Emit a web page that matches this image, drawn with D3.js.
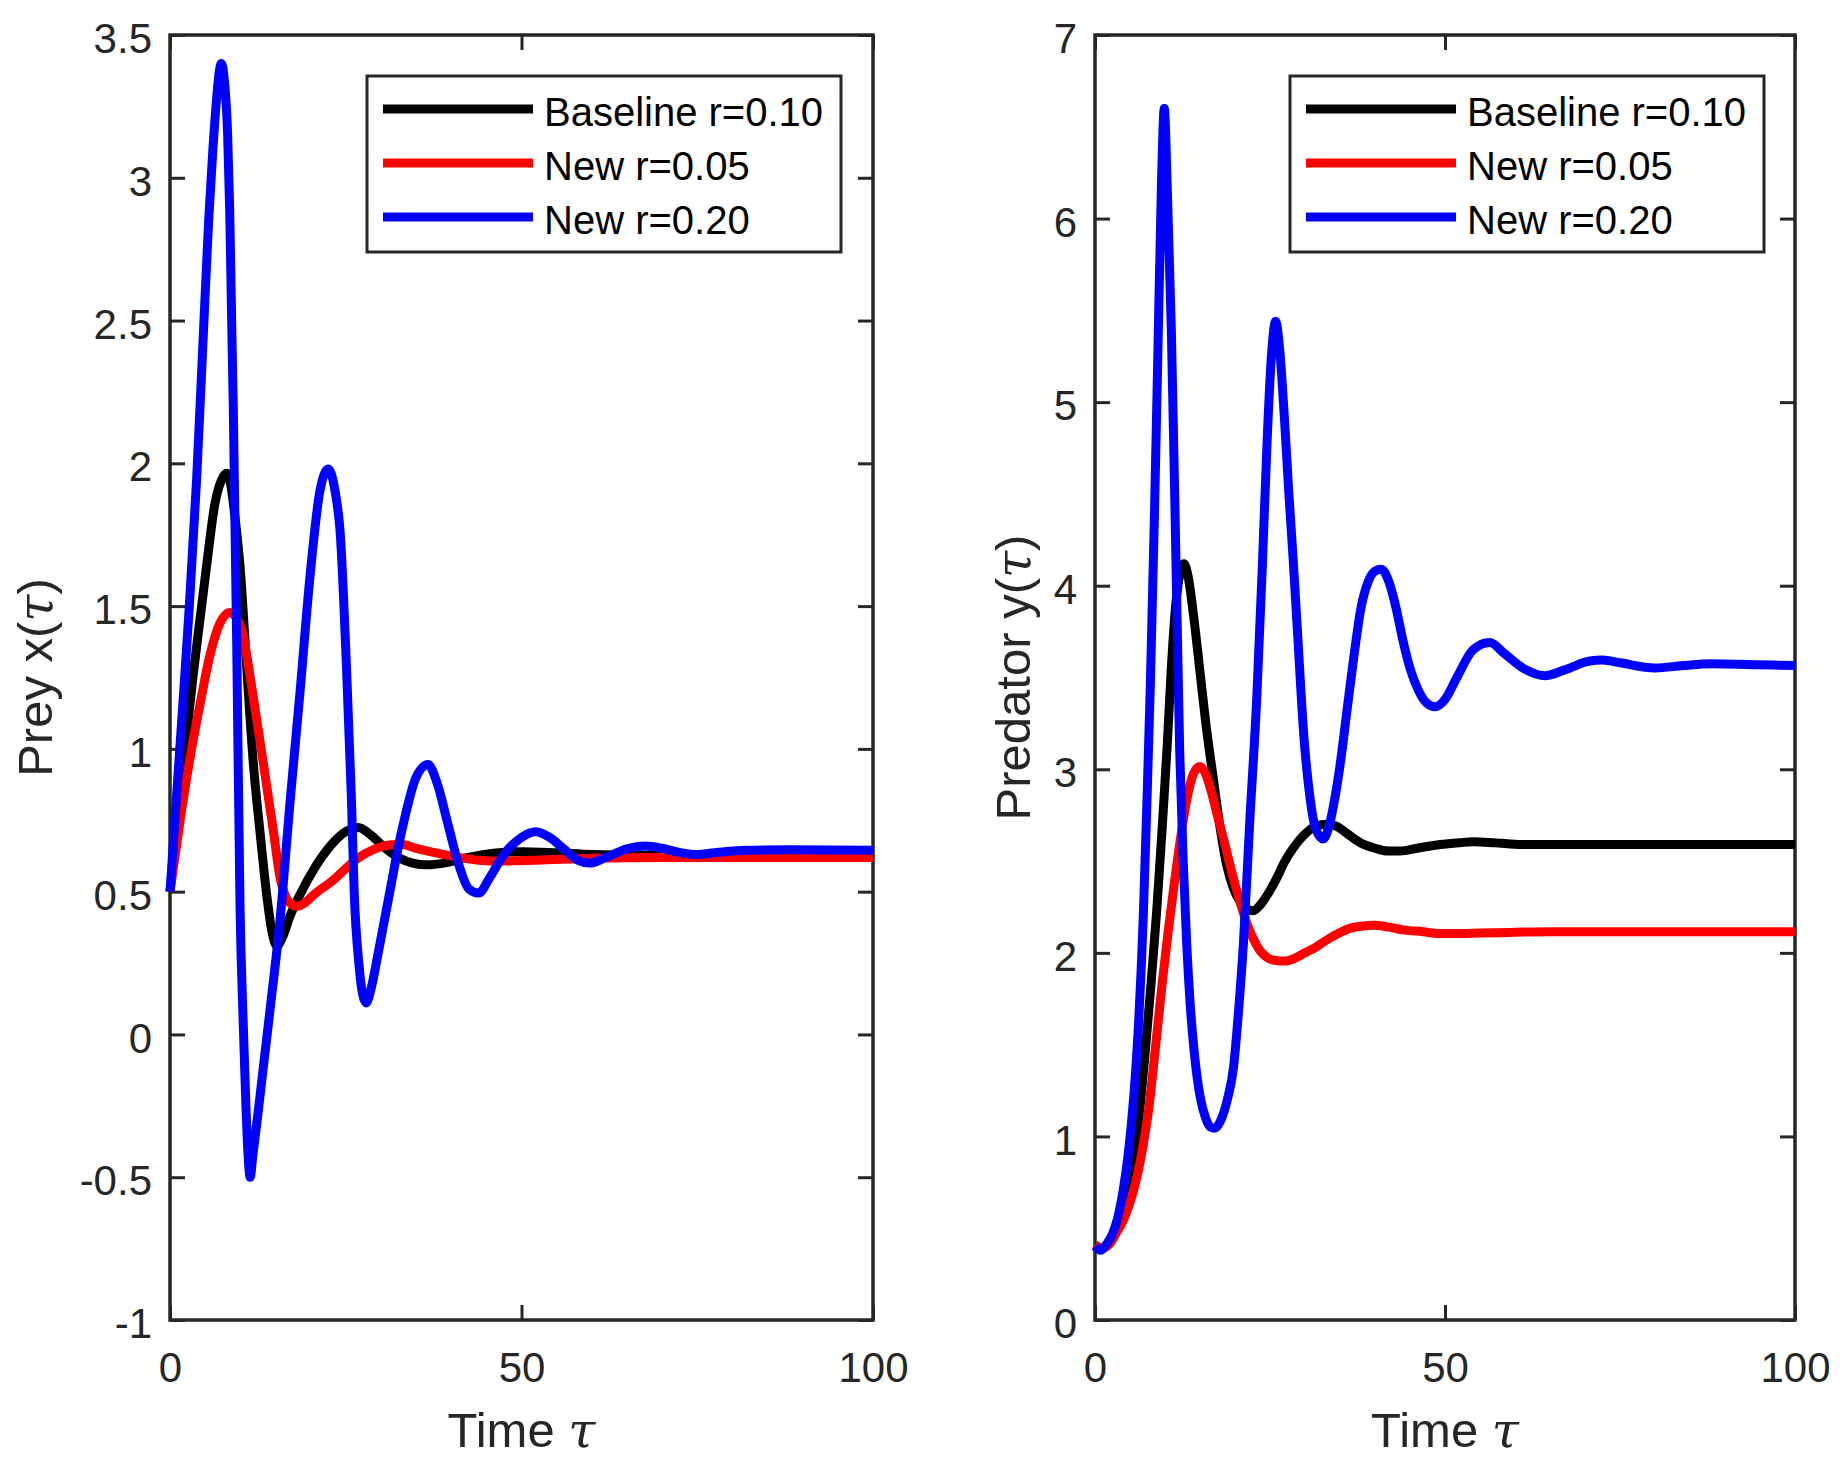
<!DOCTYPE html>
<html><head><meta charset="utf-8">
<script src="https://cdn.jsdelivr.net/npm/d3@7"></script>
<style>body{margin:0;background:#fff}</style>
</head><body>
<svg id="chart" width="1847" height="1468"></svg>
<script>
// ---------- data ----------
const seriesNames = ["Baseline r=0.10", "New r=0.05", "New r=0.20"];
const seriesColors = ["#000000", "#ff0000", "#0000ff"];
const xTicks = [0, 50, 100];
const preyTicks = [-1, -0.5, 0, 0.5, 1, 1.5, 2, 2.5, 3, 3.5];
const predTicks = [0, 1, 2, 3, 4, 5, 6, 7];

// Prey x(tau): [time, value]
const preyBaseline = [[0,0.5],[1,0.73],[2.1,0.99],[3.3,1.26],[4.5,1.5],[5.2,1.64],[6.4,1.86],[7.3,1.94],[8.06,1.965],[8.6,1.93],[9.3,1.8],[9.96,1.64],[10.9,1.29],[11.85,0.95],[12.8,0.71],[13.75,0.49],[14.5,0.36],[15.2,0.31],[16,0.34],[17,0.41],[18.7,0.5],[20.5,0.58],[22.8,0.66],[25,0.71],[26.8,0.725],[28.5,0.7],[30.5,0.655],[32.7,0.617],[34.5,0.6],[36.5,0.594],[39,0.6],[42,0.618],[46,0.635],[50,0.64],[55,0.636],[60,0.63],[70,0.627],[80,0.626],[100,0.626]];
const preyNew005 = [[0,0.5],[1.5,0.76],[3.0,0.99],[4.3,1.16],[5.7,1.33],[7.1,1.44],[8.5,1.478],[9.4,1.46],[10.4,1.4],[11.1,1.3],[11.85,1.18],[13.3,0.946],[14.7,0.713],[15.65,0.55],[16.5,0.48],[17.3,0.455],[18.0,0.448],[19,0.458],[20.5,0.49],[23.2,0.54],[26.6,0.615],[29,0.648],[31.5,0.664],[33,0.665],[35,0.652],[38,0.635],[41,0.62],[44,0.61],[47,0.607],[52,0.61],[60,0.617],[70,0.62],[100,0.62]];
const preyNew020 = [[0,0.5],[1,0.86],[2,1.22],[2.75,1.5],[3.8,1.95],[4.74,2.45],[5.5,2.85],[6.1,3.1],[6.64,3.28],[7.0,3.37],[7.3,3.4],[7.7,3.35],[8.2,3.15],[8.5,2.88],[8.77,2.5],[9.0,2.2],[9.5,1.35],[9.96,0.45],[10.4,0.05],[10.8,-0.25],[11.1,-0.42],[11.4,-0.5],[11.8,-0.42],[12.5,-0.28],[13.3,-0.11],[14.2,0.08],[15.65,0.4],[17.1,0.82],[18.5,1.2],[19.9,1.6],[21.3,1.9],[22.5,1.98],[23.5,1.9],[24.2,1.76],[25.1,1.29],[25.8,0.83],[26.2,0.5],[26.9,0.24],[27.4,0.14],[27.9,0.11],[28.6,0.16],[29.5,0.27],[30.5,0.4],[31.5,0.53],[32.5,0.66],[33.5,0.77],[35,0.9],[36.7,0.945],[38,0.88],[39.5,0.74],[41,0.6],[42.5,0.51],[43.9,0.495],[45.5,0.55],[47.5,0.63],[50,0.69],[52,0.71],[54,0.69],[56,0.65],[58,0.61],[59.7,0.6],[62,0.62],[65,0.65],[67.6,0.66],[70,0.652],[72.5,0.637],[74.8,0.63],[78,0.638],[82,0.645],[88,0.647],[100,0.645]];

// Predator y(tau): [time, value]
const predBaseline = [[0,0.41],[1,0.39],[2,0.43],[3,0.5],[4,0.6],[4.8,0.72],[5.6,0.9],[6.4,1.15],[7.2,1.47],[8,1.83],[8.8,2.22],[9.6,2.68],[10.3,3.12],[10.9,3.55],[11.5,3.88],[12.1,4.06],[12.7,4.12],[13.2,4.07],[14.2,3.8],[15.0,3.53],[16.0,3.2],[16.9,2.95],[17.8,2.7],[18.8,2.48],[19.8,2.35],[20.7,2.28],[21.6,2.24],[22.6,2.23],[23.8,2.27],[25,2.34],[26,2.41],[27,2.49],[28.3,2.57],[29.8,2.64],[31.5,2.69],[33.1,2.7],[34.5,2.69],[36,2.65],[37.9,2.6],[40,2.57],[41.8,2.555],[43.6,2.555],[46,2.57],[49.3,2.59],[52.1,2.6],[54,2.605],[57,2.6],[61,2.59],[70,2.59],[80,2.59],[100,2.59]];
const predNew005 = [[0,0.41],[1,0.39],[2,0.41],[3,0.47],[4,0.54],[5,0.64],[6,0.78],[7,0.98],[7.6,1.13],[8.6,1.47],[9.5,1.8],[10.4,2.1],[11.3,2.37],[12.2,2.62],[13.1,2.83],[14.0,2.97],[15.0,3.015],[15.8,2.975],[16.6,2.88],[17.4,2.76],[18.5,2.6],[19.6,2.43],[20.7,2.28],[21.7,2.16],[22.7,2.07],[23.6,2.01],[24.6,1.975],[25.8,1.958],[27.1,1.955],[28.5,1.97],[30,2.0],[31.5,2.03],[33.1,2.07],[35,2.11],[36.5,2.135],[38,2.145],[39.8,2.15],[42,2.14],[44,2.125],[46.9,2.115],[49,2.106],[51.7,2.105],[55,2.108],[60,2.112],[65,2.115],[100,2.115]];
const predNew020 = [[0,0.4],[0.8,0.38],[1.6,0.41],[2.4,0.46],[3.2,0.55],[4.0,0.7],[4.8,0.92],[5.5,1.2],[6.2,1.6],[6.9,2.2],[7.4,2.8],[7.9,3.45],[8.5,4.4],[9.0,5.3],[9.5,6.2],[9.9,6.6],[10.3,6.2],[10.9,5.4],[11.4,4.47],[12.1,3.1],[12.6,2.5],[13.1,2.05],[13.6,1.72],[14.2,1.45],[15.0,1.22],[15.8,1.1],[16.5,1.05],[17.1,1.045],[18.0,1.09],[18.9,1.2],[19.8,1.38],[20.5,1.68],[21.2,2.05],[22.1,2.71],[23.1,3.38],[23.9,4.1],[24.6,4.8],[25.2,5.25],[25.8,5.44],[26.4,5.28],[27.0,4.95],[27.7,4.5],[28.3,4.15],[29.0,3.7],[29.8,3.2],[30.7,2.85],[31.5,2.68],[32.6,2.62],[33.5,2.7],[34.3,2.85],[35,3.02],[36,3.32],[37,3.62],[38,3.88],[39,4.02],[40,4.08],[40.9,4.09],[42,4.02],[43,3.88],[44,3.7],[45,3.55],[46.2,3.43],[47.4,3.36],[48.6,3.34],[50,3.38],[51.7,3.5],[54,3.65],[56.4,3.69],[58.5,3.63],[61.2,3.55],[64.3,3.51],[67,3.54],[70.7,3.59],[72.5,3.595],[75,3.58],[80,3.552],[84,3.565],[88,3.575],[94,3.57],[100,3.565]];

// ---------- drawing ----------
const svg = d3.select("#chart");
svg.append("rect").attr("width", 1847).attr("height", 1468).attr("fill", "#fff");
const axisColor = "#262626";
const fontFam = "'Liberation Sans', Arial, Helvetica, sans-serif";

const panels = [
  { xr: [170, 873], yDomain: [-1, 3.5], yTicks: preyTicks, series: [preyBaseline, preyNew005, preyNew020],
    ylabel: "Prey x(", ylabelX: 52, legendX: 367 },
  { xr: [1095, 1795], yDomain: [0, 7], yTicks: predTicks, series: [predBaseline, predNew005, predNew020],
    ylabel: "Predator y(", ylabelX: 1030, legendX: 1290 }
];
const yRange = [1320, 35];

panels.forEach(p => {
  const x = d3.scaleLinear().domain([0, 100]).range(p.xr);
  const y = d3.scaleLinear().domain(p.yDomain).range(yRange);
  const g = svg.append("g");
  const [x0, x1] = p.xr;

  const styleAxis = sel => {
    sel.select(".domain").remove();
    sel.selectAll(".tick line").attr("stroke", axisColor).attr("stroke-width", 3);
    sel.selectAll(".tick text").attr("fill", axisColor).style("font-family", fontFam).style("font-size", "42px");
  };
  g.append("g").attr("transform", `translate(${x0},0)`)
    .call(d3.axisLeft(y).tickValues(p.yTicks).tickSizeInner(-15).tickSizeOuter(0).tickPadding(18).tickFormat(d => String(d)))
    .call(styleAxis).selectAll(".tick text").attr("dy", "0.42em");
  g.append("g").attr("transform", `translate(${x1},0)`)
    .call(d3.axisRight(y).tickValues(p.yTicks).tickSizeInner(-15).tickSizeOuter(0).tickFormat(""))
    .call(styleAxis);
  g.append("g").attr("transform", `translate(0,${yRange[0]})`)
    .call(d3.axisBottom(x).tickValues(xTicks).tickSizeInner(-15).tickSizeOuter(0).tickPadding(32).tickFormat(d => String(d)))
    .call(styleAxis);
  g.append("g").attr("transform", `translate(0,${yRange[1]})`)
    .call(d3.axisTop(x).tickValues(xTicks).tickSizeInner(-15).tickSizeOuter(0).tickFormat(""))
    .call(styleAxis);

  g.append("rect").attr("x", x0).attr("y", yRange[1]).attr("width", x1 - x0).attr("height", yRange[0] - yRange[1])
    .attr("fill", "none").attr("stroke", axisColor).attr("stroke-width", 3.5);

  const line = d3.line().x(d => x(d[0])).y(d => y(d[1])).curve(d3.curveMonotoneX);
  p.series.forEach((s, i) => {
    g.append("path").datum(s).attr("d", line).attr("fill", "none")
      .attr("stroke", seriesColors[i]).attr("stroke-width", 9).attr("stroke-linejoin", "round");
  });

  const xl = g.append("text").attr("x", (x0 + x1) / 2).attr("y", 1447).attr("text-anchor", "middle")
    .attr("fill", axisColor).style("font-family", fontFam).style("font-size", "49px");
  xl.append("tspan").text("Time ");
  xl.append("tspan").text("τ").style("font-family", "'DejaVu Serif', serif").style("font-style", "italic");

  const yl = g.append("text").attr("transform", `translate(${p.ylabelX},${(yRange[0] + yRange[1]) / 2}) rotate(-90)`)
    .attr("text-anchor", "middle").attr("fill", axisColor).style("font-family", fontFam).style("font-size", "49px");
  yl.append("tspan").text(p.ylabel);
  yl.append("tspan").text("τ").style("font-family", "'DejaVu Serif', serif").style("font-style", "italic");
  yl.append("tspan").text(")");

  const lg = g.append("g");
  lg.append("rect").attr("x", p.legendX).attr("y", 76).attr("width", 474).attr("height", 176)
    .attr("fill", "#fff").attr("stroke", axisColor).attr("stroke-width", 3);
  seriesNames.forEach((name, i) => {
    const ly = 109 + i * 54;
    lg.append("line").attr("x1", p.legendX + 16).attr("x2", p.legendX + 166).attr("y1", ly).attr("y2", ly)
      .attr("stroke", seriesColors[i]).attr("stroke-width", 9);
    lg.append("text").attr("x", p.legendX + 177).attr("y", ly + 17).text(name)
      .attr("fill", "#000").style("font-family", fontFam).style("font-size", "40px");
  });
});
</script>
</body></html>
